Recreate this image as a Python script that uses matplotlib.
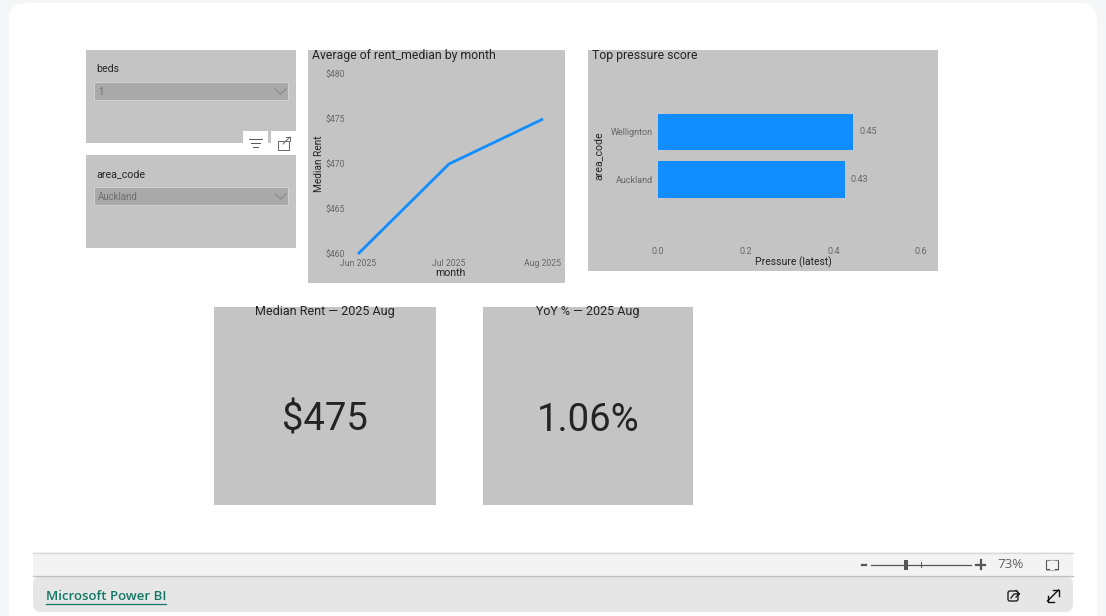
import matplotlib
matplotlib.use("Agg")
import matplotlib.pyplot as plt
from matplotlib.patches import Rectangle, FancyBboxPatch
from matplotlib.lines import Line2D
import pandas as pd

months = pd.to_datetime(["2025-06-01", "2025-07-01", "2025-08-01"])
month_labels = ["Jun 2025", "Jul 2025", "Aug 2025"]
rent = [460, 470, 475]
rent_ticks = [460, 465, 470, 475, 480]
areas = ["Auckland", "Wellignton"]
pressure = [0.427, 0.446]
pressure_ticks = [0.0, 0.2, 0.4, 0.6]
card_titles = ["Median Rent — 2025 Aug", "YoY % — 2025 Aug"]
card_values = ["$475", "1.06%"]

W, H = 1106, 616
FONT = "Roboto"
plt.rcParams["font.family"] = [FONT, "DejaVu Sans"]
PANEL = "#C4C4C4"; DARK = "#252423"; GREY = "#666666"; BLUE = "#118DFF"

fig = plt.figure(figsize=(W / 100, H / 100), dpi=100, facecolor="#F5F6F8")
bg = fig.add_axes([0, 0, 1, 1], zorder=0)
bg.set_xlim(0, W); bg.set_ylim(H, 0); bg.axis("off")


def rect(x0, y0, x1, y1, c, **k):
    bg.add_patch(Rectangle((x0, y0), x1 - x0, y1 - y0, fc=c, ec=k.pop("ec", "none"), lw=k.pop("lw", 0), **k))


def rounded(x0, y0, x1, y1, c, r):
    bg.add_patch(FancyBboxPatch((x0 + r, y0 + r), x1 - x0 - 2 * r, y1 - y0 - 2 * r,
                                boxstyle=f"round,pad={r},rounding_size={r}", fc=c, ec="none", lw=0))


def line(xs, ys, c, lw=1.0, **k):
    bg.add_line(Line2D(xs, ys, color=c, lw=lw, **k))


def txt(x, y, s, size, c=DARK, ha="left", va="center", **k):
    bg.text(x, y, s, fontsize=size, color=c, ha=ha, va=va, **k)


def axes_px(x0, y0, x1, y1):
    a = fig.add_axes([x0 / W, 1 - y1 / H, (x1 - x0) / W, (y1 - y0) / H], zorder=2)
    a.patch.set_alpha(0)
    for s in a.spines.values():
        s.set_visible(False)
    return a


# page
rounded(9, 3, 1097, 640, "white", 16)

# slicers
for (y0, y1, ttl, val) in [(50, 143, "beds", "1"), (155, 248, "area_code", "Auckland")]:
    rect(86, y0, 296, y1, PANEL)
    txt(96, y0 + 19.5, ttl, 7.7)
    rect(94, y0 + 32, 288, y0 + 50, "#A9A9A9", ec="#D0D0D0", lw=0.8)
    txt(98, y0 + 42, val, 6.9, c="#6E6E6E")
    line([275, 280.5, 286], [y0 + 39, y0 + 44, y0 + 39], "#858585", 0.7)

# hover icons
rect(243, 131, 268, 155, "white")
rect(271, 131, 296, 155, "white")
for xa, xb, yy in [(249, 262, 139), (251, 260, 143), (253, 258, 147)]:
    line([xa, xb], [yy, yy], "#555555", 0.7)
bg.add_patch(Rectangle((278, 141), 11, 9, fc="none", ec="#666666", lw=0.7))
line([283, 290], [144, 137], "#666666", 0.7)
line([286, 290, 290], [137, 137, 141], "#666666", 0.7)

# line panel
rect(308, 50, 565, 283, PANEL)
txt(312, 55.5, "Average of rent_median by month", 8.8)
ax = axes_px(358, 74, 543, 254)
ax.plot(months, rent, color=BLUE, lw=2, clip_on=False, solid_capstyle="butt")
ax.set_xlim(months[0], months[-1]); ax.set_ylim(460, 480)
ax.set_xticks(months, month_labels)
ax.set_yticks(rent_ticks, [f"${v}" for v in rent_ticks])
ax.tick_params(length=0, labelsize=6.2, labelcolor=GREY)
ax.tick_params(axis="x", pad=3.8)
ax.tick_params(axis="y", pad=9.5)
txt(319.5, 164, "Median Rent", 7.3, ha="center", rotation=90)
txt(450, 273.5, "month", 7.6, ha="center")

# bar panel
rect(588, 50, 938, 271, PANEL)
txt(592, 55.5, "Top pressure score", 8.8)
ax2 = axes_px(658, 84, 921, 233)
ypos = list(range(len(areas)))
bars = ax2.barh(ypos, pressure, height=0.765, color=BLUE)
ax2.set_xlim(0, 0.6)
ax2.set_ylim(-(233 - 179.5) / 47.7, 1 + (131.8 - 84) / 47.7)
ax2.set_yticks(ypos, areas)
ax2.set_xticks(pressure_ticks, [f"{v:.1f}" for v in pressure_ticks])
ax2.tick_params(length=0, labelsize=6.5, labelcolor=GREY)
ax2.tick_params(axis="y", pad=3.8)
ax2.tick_params(axis="x", pad=10)
ax2.bar_label(bars, fmt="%.2f", padding=4, fontsize=6.5, color=GREY)
txt(598.5, 156, "area_code", 7.6, ha="center", rotation=90)
txt(793, 262.5, "Pressure (latest)", 7.5, ha="center")

# cards
for (x0, x1, t, v, cx) in [(214, 436, card_titles[0], card_values[0], 324.5),
                           (483, 693, card_titles[1], card_values[1], 588)]:
    rect(x0, 307, x1, 505, PANEL)
    txt(cx, 312, t, 9.0, ha="center")
    txt(cx, 420.5, v, 27.5, ha="center")

# footer
rect(33, 552, 1073, 576, "#F3F3F3")
line([33, 1073], [552.5, 552.5], "#D8D8D8", 0.9)
bg.add_patch(FancyBboxPatch((41, 584), 1024, 20, boxstyle="round,pad=8,rounding_size=8", fc="#E6E6E6", ec="none", lw=0))
line([33, 1073], [575.5, 575.5], "#BFBFBF", 0.9)
bg.text(46, 596, "Microsoft Power BI", fontsize=9.5, color="#117865", va="center",
        family="Open Sans", weight="semibold")
line([46, 166], [603.5, 603.5], "#117865", 0.9)

# zoom bar
line([861.5, 866], [564.5, 564.5], "#555555", 1.6)
line([871, 971], [564.5, 564.5], "#555555", 0.9)
rect(904, 559.5, 908, 570, "#555555")
line([921, 921], [562, 567], "#555555", 0.7)
line([976, 985], [564.5, 564.5], "#555555", 1.6)
line([980.5, 980.5], [560, 569], "#555555", 1.6)
bg.text(997, 564.5, "73%", fontsize=9.6, color="#606060", va="center", family="Open Sans")
for xs in ([1049, 1046, 1046, 1049], [1055, 1058, 1058, 1055]):
    line(xs, [560, 560, 569, 569], "#555555", 0.8)
line([1046, 1058], [559.5, 559.5], "#999999", 0.5)
line([1046, 1058], [569.5, 569.5], "#999999", 0.5)

# share + expand icons
bg.add_patch(FancyBboxPatch((1008, 591), 10, 10, boxstyle="round,pad=0,rounding_size=2", fc="none", ec="#222222", lw=1.0))
line([1011, 1014, 1019], [598, 594, 594], "#222222", 1.0)
line([1016, 1019.5, 1016], [590.5, 594, 597], "#222222", 1.0)
line([1047.5, 1058.5], [601, 590], "#111111", 1.0)
line([1053, 1059, 1059], [590, 590, 596], "#111111", 1.0)
line([1047.5, 1047.5, 1053.5], [595.5, 601.5, 601.5], "#111111", 1.0)

fig.savefig("out.png", dpi=100, facecolor=fig.get_facecolor())
